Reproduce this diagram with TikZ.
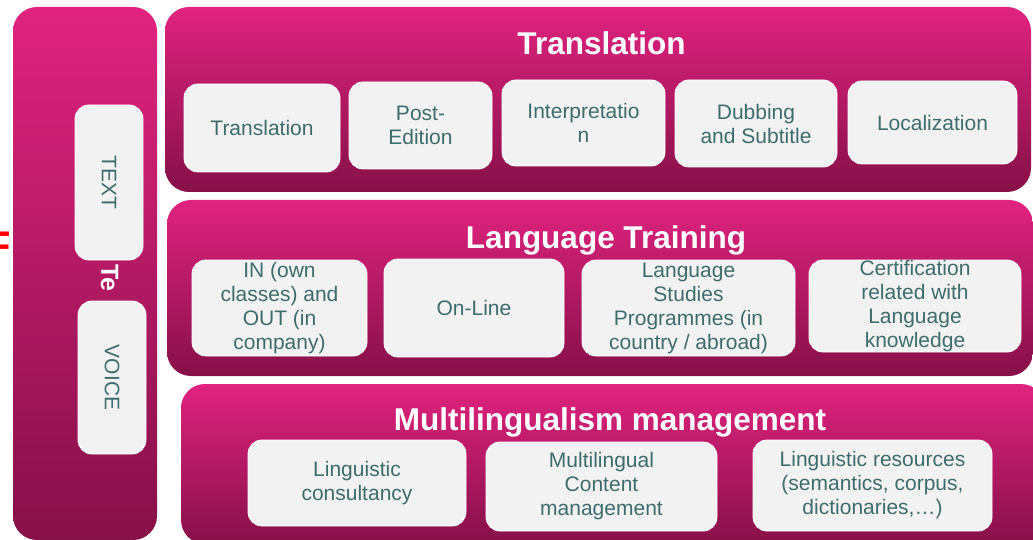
\documentclass[tikz,border=0pt]{standalone}
\usepackage{fontspec}
\setmainfont{Liberation Sans}
\definecolor{magtop}{RGB}{224,35,127}
\definecolor{magbot}{RGB}{134,16,72}
\definecolor{boxgray}{RGB}{242,242,242}
\definecolor{boxtext}{RGB}{62,108,108}
\begin{document}
\begin{tikzpicture}[x=1pt,y=-1pt,
        panel/.style={rounded corners=24pt,top color=magtop,bottom color=magbot,inner sep=0pt},
        item/.style={rounded corners=14pt,fill=boxgray,draw=white,line width=0.8pt,text=boxtext,
                     align=center,inner sep=0pt,font=\fontsize{21}{24}\selectfont},
        title/.style={text=white,anchor=base,inner sep=0pt,font=\bfseries\fontsize{31.5}{36}\selectfont}]
        \useasboundingbox (0,0) rectangle (1033,540);
        % Define the panels
        \node[panel,minimum width=144pt,minimum height=533pt] (side)  at (85,273.5) {};
        \node[panel,minimum width=866pt,minimum height=185pt] (trans) at (598,99.5) {};
        \node[panel,minimum width=866pt,minimum height=176pt] (lang)  at (600,288) {};
        \node[panel,minimum width=864pt,minimum height=160pt] (multi) at (613,464) {};
        % Cut-off letter on the left border
        \node[text=red,anchor=base east,inner sep=0pt,font=\bfseries\fontsize{40}{40}\selectfont] (cut) at (11.6,259.6) {F};
        % Side panel
        \node[text=white,rotate=-90,anchor=base west,inner sep=0pt,font=\bfseries\fontsize{25}{30}\selectfont] (sidetitle) at (101,264) {Te};
        \node[item,minimum width=68pt,minimum height=155pt] (text)  at (109,182.5) {\rotatebox{-90}{TEXT}};
        \node[item,minimum width=68pt,minimum height=153pt] (voice) at (112,377.5) {\rotatebox{-90}{VOICE}};
        % Translation row
        \node[title] (transtitle) at (601.5,55) {Translation};
        \node[item,minimum width=156pt,minimum height=88pt] (tr)  at (262,128) {Translation};
        \node[item,minimum width=143pt,minimum height=87pt] (pe)  at (420.5,125.5) {Post-\\Edition};
        \node[item,minimum width=163pt,minimum height=86pt] (int) at (583.5,123) {Interpretatio\\n};
        \node[item,minimum width=162pt,minimum height=87pt] (dub) at (756,123.5) {Dubbing\\and Subtitle};
        \node[item,minimum width=169pt,minimum height=83pt] (loc) at (932.5,122.5) {Localization};
        % Language training row
        \node[title] (langtitle) at (606,248) {Language Training};
        \node[item,minimum width=175pt,minimum height=96pt] (inout)  at (279.5,308) {IN (own\\classes) and\\OUT (in\\company)};
        \node[item,minimum width=180pt,minimum height=98pt] (online) at (474,308) {On-Line};
        \node[item,minimum width=213pt,minimum height=96pt] (study)  at (688.5,308) {Language\\Studies\\Programmes (in\\country / abroad)};
        \node[item,minimum width=212pt,minimum height=92pt] (cert)   at (915,306) {Certification\\related with\\Language\\knowledge};
        % Multilingualism row
        \node[title] (multititle) at (610,430.5) {Multilingualism management};
        \node[item,minimum width=218pt,minimum height=86pt] (consult)  at (357,483) {Linguistic\\consultancy};
        \node[item,minimum width=231pt,minimum height=89pt] (content)  at (601.5,486.5) {Multilingual\\Content\\management};
        \node[item,minimum width=239pt,minimum height=91pt] (resource) at (872.5,485.5) {Linguistic resources\\(semantics, corpus,\\dictionaries,…)};
    \end{tikzpicture}
\end{document}
